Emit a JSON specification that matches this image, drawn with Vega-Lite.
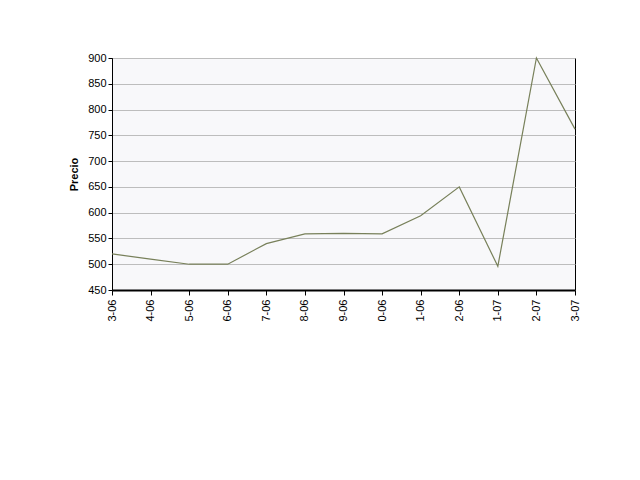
{
  "$schema": "https://vega.github.io/schema/vega-lite/v6.json",
  "autosize": "none",
  "width": 463,
  "height": 232,
  "padding": {"left": 112, "top": 58, "right": 65, "bottom": 190},
  "background": "#ffffff",
  "data": {
    "values": [
      {"Mes": "3-06", "Precio": 520},
      {"Mes": "4-06", "Precio": 510},
      {"Mes": "5-06", "Precio": 500},
      {"Mes": "6-06", "Precio": 500},
      {"Mes": "7-06", "Precio": 540},
      {"Mes": "8-06", "Precio": 559},
      {"Mes": "9-06", "Precio": 560},
      {"Mes": "0-06", "Precio": 559},
      {"Mes": "1-06", "Precio": 594},
      {"Mes": "2-06", "Precio": 650},
      {"Mes": "1-07", "Precio": 496},
      {"Mes": "2-07", "Precio": 900},
      {"Mes": "3-07", "Precio": 762}
    ]
  },
  "mark": {"type": "line", "color": "#78805a", "strokeWidth": 1.2},
  "encoding": {
    "x": {
      "field": "Mes",
      "type": "ordinal",
      "sort": null,
      "title": null,
      "scale": {"type": "point", "padding": 0},
      "axis": {
        "labelAngle": -90,
        "labelAlign": "right",
        "labelBaseline": "middle",
        "labelPadding": 4,
        "tickSize": 5,
        "tickColor": "#000000",
        "domainColor": "#000000",
        "domainWidth": 2,
        "grid": false
      }
    },
    "y": {
      "field": "Precio",
      "type": "quantitative",
      "title": "Precio",
      "scale": {"domain": [450, 900], "nice": false, "zero": false},
      "axis": {
        "values": [450, 500, 550, 600, 650, 700, 750, 800, 850, 900],
        "tickSize": 4,
        "tickColor": "#000000",
        "domainColor": "#000000",
        "gridColor": "#bdbdbd",
        "titleFontWeight": "bold",
        "titlePadding": 8
      }
    }
  },
  "config": {
    "font": "Liberation Sans",
    "view": {"fill": "#f8f8fa", "stroke": "#000000", "strokeWidth": 1},
    "axis": {
      "labelFont": "Liberation Sans",
      "labelFontSize": 11,
      "labelColor": "#000000",
      "titleFont": "Liberation Sans",
      "titleFontSize": 11,
      "titleColor": "#000000"
    }
  }
}
